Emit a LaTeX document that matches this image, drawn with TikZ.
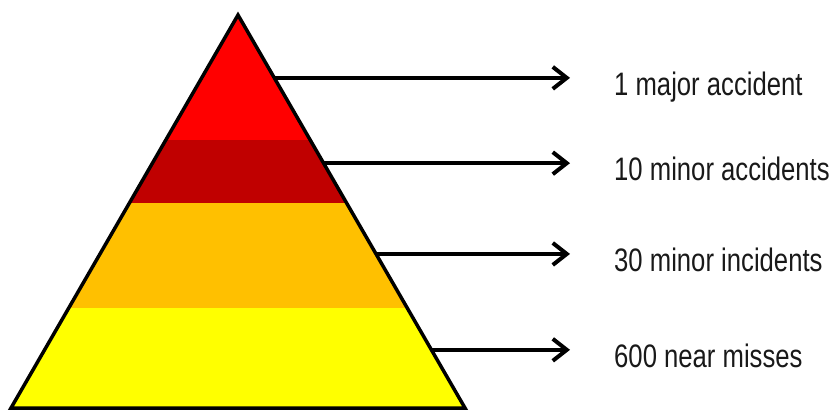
\documentclass[tikz,border=0pt]{standalone}
\usepackage{fontspec}
\setmainfont{Liberation Sans}[FakeStretch=0.79]
\usetikzlibrary{arrows.meta,positioning,calc}
\definecolor{pyTop}{HTML}{FF0000}
\definecolor{pyMinor}{HTML}{C00000}
\definecolor{pyInc}{HTML}{FFC000}
\definecolor{pyNear}{HTML}{FFFF00}
\tikzset{
  pyr/.style={x=1pt, y=-1pt},
  outline/.style={draw=black, line width=3.5pt, line join=miter},
  flow/.style={-{Straight Barb[length=14pt, width=22pt, line width=4pt]}, draw=black, line width=4pt},
  lbl/.style={anchor=base west, inner sep=0pt, text=black!90, font=\fontsize{32.5}{36}\selectfont},
}

\begin{document}
\begin{tikzpicture}[pyr]
\useasboundingbox (0,0) rectangle (832,412);
\coordinate (apex) at (238,15);
\coordinate (bl) at (11,408);
\coordinate (br) at (465,408);

\begin{scope}
  \clip (apex) -- (bl) -- (br) -- cycle;
  \foreach \c/\t/\b in {pyTop/0/140, pyMinor/140/203, pyInc/203/308, pyNear/308/412}
    \fill[\c] (0,\t) rectangle (832,\b);
\end{scope}
\draw[outline] (apex) -- (bl) -- (br) -- cycle;

\foreach \i/\f/\y/\t in {1/0.160/78/{1 major accident}, 2/0.377/163/{10 minor accidents},
                         3/0.608/254/{30 minor incidents}, 4/0.852/350/{600 near misses}}{
  \coordinate (a\i) at ($(apex)!\f!(br)$);
  \node[lbl] (l\i) at (614,\y+17) {\t};
  \draw[flow] (a\i) -- ([xshift=-44pt]l\i.west |- a\i);
}
\end{tikzpicture}
\end{document}
